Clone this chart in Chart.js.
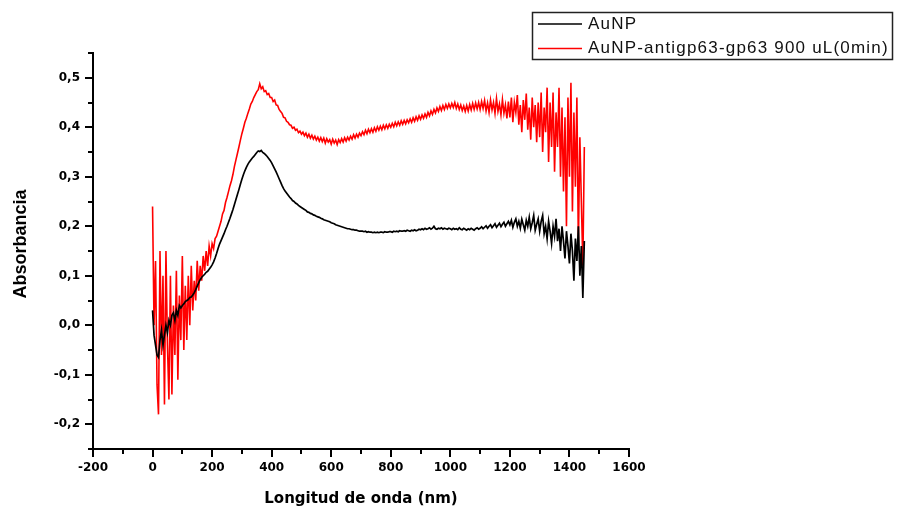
<!DOCTYPE html>
<html>
<head>
<meta charset="utf-8">
<script src="https://cdn.jsdelivr.net/npm/chart.js@4.4.1/dist/chart.umd.min.js"></script>
<style>
  html, body { margin: 0; padding: 0; background: #fff; }
  #wrap { width: 897px; height: 510px; position: relative; }
</style>
</head>
<body>
<div id="wrap"><canvas id="c" width="897" height="510"></canvas></div>
<script>
// Wavelength (nm)
const wavelengths = [
  0,5,10,15,20,25,30,35,40,45,50,55,60,65,70,75,80,85,90,95,
  100,105,110,115,120,125,130,135,140,145,150,155,160,165,170,175,180,185,190,195,
  200,205,210,215,220,225,230,235,240,245,250,255,260,265,270,275,280,285,290,295,
  300,305,310,315,320,325,330,335,340,345,350,355,360,365,370,375,380,385,390,395,
  400,405,410,415,420,425,430,435,440,445,450,455,460,465,470,475,480,485,490,495,
  500,505,510,515,520,525,530,535,540,545,550,555,560,565,570,575,580,585,590,595,
  600,605,610,615,620,625,630,635,640,645,650,655,660,665,670,675,680,685,690,695,
  700,705,710,715,720,725,730,735,740,745,750,755,760,765,770,775,780,785,790,795,
  800,805,810,815,820,825,830,835,840,845,850,855,860,865,870,875,880,885,890,895,
  900,905,910,915,920,925,930,935,940,945,950,955,960,965,970,975,980,985,990,995,
  1000,1005,1010,1015,1020,1025,1030,1035,1040,1045,1050,1055,1060,1065,1070,1075,1080,1085,1090,1095,
  1100,1105,1110,1115,1120,1125,1130,1135,1140,1145,1150,1155,1160,1165,1170,1175,1180,1185,1190,1195,
  1200,1205,1210,1215,1220,1225,1230,1235,1240,1245,1250,1255,1260,1265,1270,1275,1280,1285,1290,1295,
  1300,1305,1310,1315,1320,1325,1330,1335,1340,1345,1350,1355,1360,1365,1370,1375,1380,1385,1390,1395,
  1400,1405,1410,1415,1420,1425,1430,1435,1440,1445,1450
];

// AuNP absorbance
const aunp = [
  0.03,-0.02,-0.04,-0.06,-0.065,-0.03,-0.01,-0.04,-0.02,0.0,-0.015,0.01,0.0,0.02,0.025,0.01,0.03,0.02,0.04,0.035,
  0.04,0.043,0.048,0.05,0.052,0.056,0.057,0.061,0.066,0.072,0.079,0.086,0.092,0.097,0.1,0.103,0.107,0.109,0.113,0.117,
  0.122,0.128,0.136,0.145,0.155,0.164,0.171,0.178,0.185,0.193,0.2,0.208,0.216,0.225,0.234,0.244,0.254,0.264,0.274,0.285,
  0.295,0.304,0.312,0.319,0.325,0.33,0.334,0.338,0.341,0.345,0.349,0.352,0.351,0.353,0.349,0.347,0.344,0.341,0.337,0.333,
  0.328,0.322,0.316,0.31,0.303,0.296,0.289,0.282,0.276,0.271,0.267,0.263,0.259,0.256,0.252,0.25,0.247,0.245,0.242,0.24,
  0.238,0.236,0.234,0.232,0.229,0.228,0.226,0.225,0.223,0.222,0.22,0.219,0.218,0.216,0.215,0.213,0.212,0.211,0.21,0.209,
  0.207,0.206,0.205,0.203,0.202,0.201,0.2,0.199,0.198,0.197,0.196,0.195,0.195,0.194,0.193,0.193,0.192,0.192,0.191,0.19,
  0.19,0.19,0.189,0.19,0.188,0.189,0.188,0.188,0.187,0.188,0.187,0.188,0.187,0.188,0.188,0.187,0.189,0.188,0.188,0.189,
  0.189,0.188,0.19,0.189,0.19,0.189,0.191,0.19,0.19,0.191,0.19,0.192,0.191,0.19,0.192,0.191,0.193,0.191,0.192,0.194,
  0.193,0.195,0.193,0.196,0.194,0.195,0.197,0.194,0.196,0.2,0.195,0.194,0.196,0.195,0.197,0.194,0.196,0.195,0.194,0.196,
  0.195,0.193,0.196,0.194,0.195,0.193,0.197,0.194,0.193,0.196,0.194,0.192,0.195,0.193,0.196,0.194,0.192,0.195,0.197,0.194,
  0.196,0.199,0.195,0.198,0.201,0.196,0.2,0.203,0.197,0.201,0.205,0.198,0.202,0.206,0.199,0.204,0.208,0.2,0.205,0.21,
  0.203,0.212,0.198,0.208,0.215,0.2,0.21,0.196,0.214,0.203,0.192,0.212,0.2,0.218,0.195,0.207,0.222,0.192,0.204,0.215,
  0.19,0.21,0.222,0.185,0.2,0.175,0.21,0.19,0.165,0.2,0.18,0.215,0.17,0.195,0.15,0.2,0.17,0.135,0.19,0.16,
  0.125,0.185,0.15,0.09,0.175,0.13,0.2,0.1,0.16,0.055,0.17
];

// AuNP-antigp63-gp63 900 uL(0min) absorbance
const aunpAnti = [
  0.24,0.0,0.13,-0.12,-0.18,0.15,-0.06,0.1,-0.16,0.15,-0.04,-0.15,0.1,-0.14,0.04,-0.06,0.11,-0.11,0.06,-0.03,
  0.14,-0.05,0.08,-0.03,0.1,0.0,0.12,0.03,0.09,0.05,0.13,0.07,0.12,0.09,0.14,0.11,0.15,0.12,0.16,0.14,
  0.165,0.155,0.175,0.18,0.19,0.2,0.21,0.225,0.232,0.248,0.258,0.27,0.282,0.292,0.305,0.321,0.334,0.347,0.36,0.374,
  0.387,0.398,0.41,0.418,0.428,0.437,0.447,0.452,0.46,0.466,0.472,0.476,0.488,0.478,0.482,0.472,0.474,0.466,0.468,0.46,
  0.46,0.452,0.455,0.445,0.444,0.436,0.432,0.428,0.42,0.419,0.412,0.41,0.405,0.404,0.398,0.4,0.394,0.396,0.389,0.392,
  0.386,0.39,0.383,0.388,0.38,0.386,0.378,0.384,0.376,0.382,0.374,0.38,0.372,0.379,0.371,0.378,0.368,0.377,0.37,0.375,
  0.366,0.376,0.368,0.374,0.365,0.375,0.369,0.377,0.37,0.379,0.372,0.38,0.374,0.382,0.376,0.385,0.378,0.386,0.38,0.388,
  0.383,0.391,0.385,0.394,0.387,0.396,0.389,0.397,0.39,0.399,0.392,0.401,0.394,0.402,0.395,0.404,0.397,0.405,0.398,0.406,
  0.4,0.408,0.401,0.41,0.403,0.411,0.404,0.413,0.406,0.414,0.407,0.415,0.409,0.417,0.41,0.419,0.412,0.421,0.414,0.423,
  0.416,0.425,0.418,0.427,0.42,0.43,0.423,0.433,0.426,0.436,0.429,0.439,0.432,0.442,0.434,0.444,0.436,0.446,0.438,0.447,
  0.439,0.448,0.44,0.45,0.438,0.447,0.436,0.445,0.434,0.443,0.432,0.444,0.433,0.446,0.435,0.448,0.436,0.449,0.437,0.45,
  0.436,0.452,0.438,0.454,0.433,0.449,0.43,0.455,0.435,0.45,0.428,0.458,0.432,0.447,0.425,0.456,0.428,0.445,0.418,0.452,
  0.42,0.46,0.41,0.45,0.43,0.465,0.405,0.445,0.39,0.455,0.415,0.468,0.395,0.44,0.375,0.46,0.4,0.445,0.37,0.45,
  0.38,0.47,0.35,0.44,0.39,0.48,0.33,0.45,0.36,0.47,0.31,0.43,0.36,0.48,0.3,0.44,0.27,0.42,0.2,0.46,
  0.3,0.49,0.23,0.43,0.28,0.46,0.16,0.38,0.25,0.12,0.36
];

const seriesNames = ['AuNP', 'AuNP-antigp63-gp63 900 uL(0min)'];
const seriesColors = ['#000000', '#ff0000'];

// Tick values
const xTicks = [-200,0,200,400,600,800,1000,1200,1400,1600];
const xMinorTicks = [-100,100,300,500,700,900,1100,1300,1500];
const yTicks = [-0.2,-0.1,0.0,0.1,0.2,0.3,0.4,0.5];
const yMinorTicks = [-0.25,-0.15,-0.05,0.05,0.15,0.25,0.35,0.45,0.55];

const xTitle = 'Longitud de onda (nm)';
const yTitle = 'Absorbancia';

function toPoints(xs, ys) { return xs.map((x, i) => ({ x: x, y: ys[i] })); }
function fmtY(v) { return v.toFixed(1).replace('.', ','); }

const decor = {
  id: 'decor',
  afterDraw(chart) {
    const ctx = chart.ctx;
    const ca = chart.chartArea;
    const xs = chart.scales.x, ys = chart.scales.y;
    ctx.save();
    ctx.strokeStyle = '#000';
    ctx.lineWidth = 2;
    ctx.beginPath();
    xTicks.forEach(v => { const p = Math.round(xs.getPixelForValue(v)); ctx.moveTo(p, ca.bottom); ctx.lineTo(p, ca.bottom + 8); });
    xMinorTicks.forEach(v => { const p = Math.round(xs.getPixelForValue(v)); ctx.moveTo(p, ca.bottom); ctx.lineTo(p, ca.bottom + 5); });
    yTicks.forEach(v => { const p = Math.round(ys.getPixelForValue(v)); ctx.moveTo(ca.left - 8, p); ctx.lineTo(ca.left, p); });
    yMinorTicks.forEach(v => { const p = Math.round(ys.getPixelForValue(v)); ctx.moveTo(ca.left - 5, p); ctx.lineTo(ca.left, p); });
    ctx.stroke();

    // axis titles
    ctx.fillStyle = '#000';
    ctx.font = 'bold 15px "DejaVu Sans"';
    ctx.textAlign = 'center';
    ctx.textBaseline = 'middle';
    ctx.fillText(xTitle, (ca.left + ca.right) / 2, 499);
    ctx.save();
    ctx.translate(21, 244);
    ctx.rotate(-Math.PI / 2);
    ctx.font = 'bold 18px "Liberation Sans"';
    ctx.fillText(yTitle, 0, 0);
    ctx.restore();

    // legend
    ctx.lineWidth = 1.5;
    ctx.strokeStyle = '#222';
    ctx.strokeRect(532.5, 12.5, 360, 47);
    ctx.font = '17px "Liberation Sans"';
    ctx.textAlign = 'left';
    try { ctx.letterSpacing = '1.2px'; } catch (e) {}
    const rowsY = [24, 48.5];
    seriesNames.forEach((name, i) => {
      ctx.strokeStyle = seriesColors[i];
      ctx.lineWidth = 1.5;
      ctx.beginPath();
      ctx.moveTo(538, rowsY[i]);
      ctx.lineTo(582, rowsY[i]);
      ctx.stroke();
      ctx.fillStyle = '#111';
      ctx.fillText(name, 588, rowsY[i]);
    });
    ctx.restore();
  }
};

new Chart(document.getElementById('c'), {
  type: 'line',
  data: {
    datasets: [
      { label: seriesNames[0], data: toPoints(wavelengths, aunp), borderColor: seriesColors[0], borderWidth: 1.7, pointRadius: 0, tension: 0, fill: false },
      { label: seriesNames[1], data: toPoints(wavelengths, aunpAnti), borderColor: seriesColors[1], borderWidth: 1.6, pointRadius: 0, tension: 0, fill: false }
    ]
  },
  options: {
    responsive: false,
    animation: false,
    events: [],
    layout: { padding: { left: 0, top: 53, right: 268, bottom: 0 } },
    plugins: { legend: { display: false }, tooltip: { enabled: false }, title: { display: false } },
    scales: {
      x: {
        type: 'linear',
        min: -200, max: 1600,
        afterFit: s => { s.height = 61; },
        afterBuildTicks: s => { s.ticks = xTicks.map(v => ({ value: v })); },
        grid: { display: false, drawTicks: false },
        border: { display: true, color: '#000', width: 2 },
        ticks: { color: '#000', padding: 12, maxRotation: 0, autoSkip: false, font: { family: 'DejaVu Sans', size: 12, weight: 'bold' }, callback: v => String(v) }
      },
      y: {
        type: 'linear',
        min: -0.25, max: 0.55,
        afterFit: s => { s.width = 93; },
        afterBuildTicks: s => { s.ticks = yTicks.map(v => ({ value: v })); },
        grid: { display: false, drawTicks: false },
        border: { display: true, color: '#000', width: 2 },
        ticks: { color: '#000', padding: 13, autoSkip: false, font: { family: 'DejaVu Sans', size: 12, weight: 'bold' }, callback: v => fmtY(v) }
      }
    }
  },
  plugins: [decor]
});
</script>
</body>
</html>
